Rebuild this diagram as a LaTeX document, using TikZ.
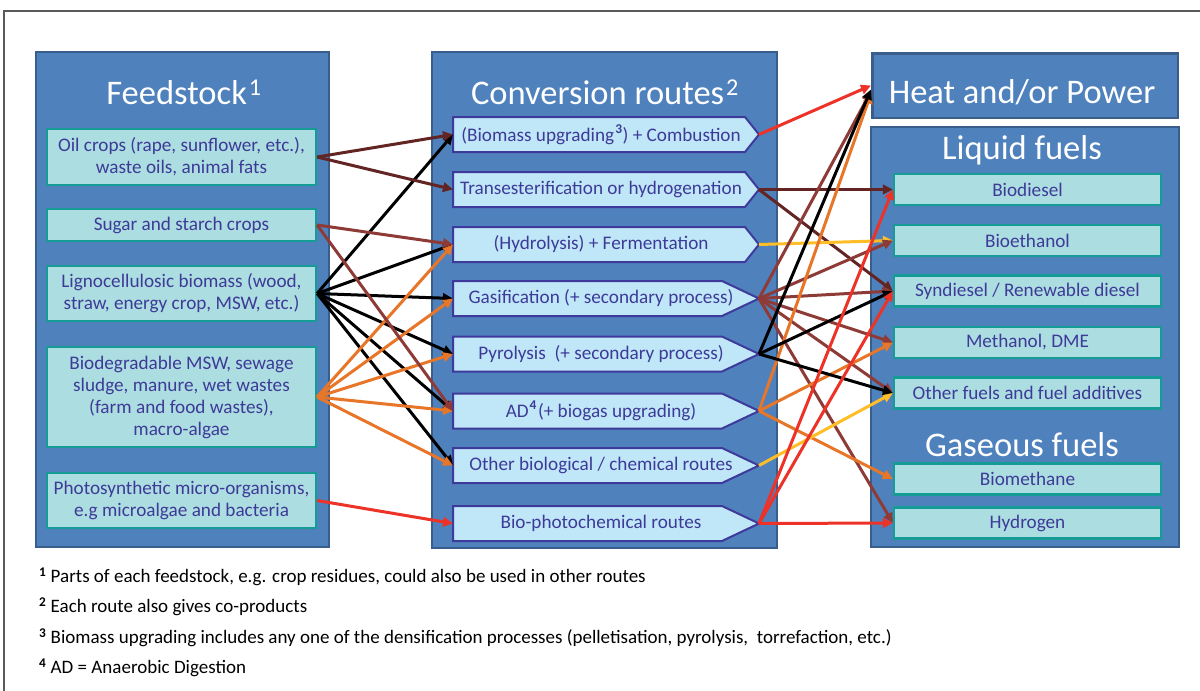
\documentclass[tikz,border=0pt]{standalone}
\usepackage{fontspec}
\setmainfont{Carlito}
\usetikzlibrary{arrows.meta}

\definecolor{panelfill}{RGB}{79,129,189}
\definecolor{paneledge}{RGB}{58,94,140}
\definecolor{feedfill}{RGB}{172,221,224}
\definecolor{feededge}{RGB}{22,156,150}
\definecolor{routefill}{RGB}{192,231,248}
\definecolor{routeedge}{RGB}{62,58,156}
\definecolor{boxtext}{RGB}{62,58,152}
\definecolor{framegrey}{RGB}{90,90,90}
\definecolor{cDarkBrown}{RGB}{99,37,35}
\definecolor{cBrown}{RGB}{142,59,56}
\definecolor{cOrange}{RGB}{232,118,40}
\definecolor{cRed}{RGB}{237,50,40}
\definecolor{cYellow}{RGB}{255,190,40}

\newcommand\titlefont{\fontsize{34.5}{38}\selectfont}
\newcommand\boxfont{\fontsize{19.2}{22}\selectfont}
\newcommand\notefont{\fontsize{19}{22}\selectfont}

% route box: name, centre y, shoulder x, label
\newcommand\RouteBox[4]{%
  \draw[routeshape] (453,#2-17.5) -- (#3,#2-17.5) -- (759,#2) -- (#3,#2+17.5) -- (453,#2+17.5) -- cycle;
  \node[routetext] (#1) at (601,#2) {#4};
  \coordinate (#1tip) at (759,#2);
  \coordinate (#1in) at (453,#2);
}

\tikzset{
  panel/.style={fill=panelfill, draw=paneledge, line width=2.5pt},
  paneltitle/.style={text=white, font=\titlefont, inner sep=0pt},
  feedbox/.style={fill=feedfill, draw=feededge, line width=2.2pt, text=boxtext,
    font=\boxfont, align=center, minimum width=269pt, inner sep=0pt},
  fuelbox/.style={fill=feedfill, draw=feededge, line width=2.2pt, text=boxtext,
    font=\boxfont, minimum width=267pt, minimum height=31pt, inner sep=0pt},
  routeshape/.style={fill=routefill, draw=routeedge, line width=2pt, line join=miter},
  routetext/.style={text=boxtext, font=\boxfont, inner sep=0pt},
  conn/.style={line width=3pt, -{Triangle[length=10pt,width=9.5pt]}},
  note/.style={anchor=west, font=\notefont, inner sep=0pt},
}

\begin{document}
\begin{tikzpicture}[x=1pt,y=-1pt]
\useasboundingbox (0,0) rectangle (1200,691);
\fill[white] (0,0) rectangle (1200,691);

% outer frame
\draw[framegrey, line width=1.2pt] (4,695) -- (4,11) -- (1205,11);

% panels
\path[panel] (36,52) rectangle (329,547);
\path[panel] (432,52) rectangle (777,548);
\path[panel] (871,127) rectangle (1179,547);
\node[panel, inner sep=0pt, minimum width=305.5pt, minimum height=64.5pt] (heat) at (1025,85.5) {};

\node[paneltitle] (tfeed) at (184,92) {Feedstock\kern2pt\textsuperscript{1}};
\node[paneltitle] (tconv) at (605,92) {Conversion routes\kern2pt\textsuperscript{2}};
\node[paneltitle] (theat) at (1022,92) {Heat and/or Power};
\node[paneltitle] (tliquid) at (1022,150) {Liquid fuels};
\node[paneltitle] (tgas) at (1022,445) {Gaseous fuels};

% feedstocks
\node[feedbox, minimum height=56pt] (oil) at (181.5,157) {Oil crops (rape, sunflower, etc.),\\waste oils, animal fats};
\node[feedbox, minimum height=32pt] (sugar) at (181.5,225) {Sugar and starch crops};
\node[feedbox, minimum height=55pt] (ligno) at (181.5,293.5) {Lignocellulosic biomass (wood,\\straw, energy crop, MSW, etc.)};
\node[feedbox, minimum height=100pt] (biodeg) at (181.5,397) {Biodegradable MSW, sewage\\sludge, manure, wet wastes\\(farm and food wastes),\\macro-algae};
\node[feedbox, minimum height=55pt] (photo) at (181.5,500.5) {Photosynthetic micro-organisms,\\e.g microalgae and bacteria};

% conversion routes
\RouteBox{comb}{134.5}{745}{(Biomass upgrading\kern1pt\textsuperscript{\textbf{3}}) + Combustion}
\RouteBox{trans}{189.5}{745}{Transesterification or hydrogenation}
\RouteBox{ferm}{244.5}{745}{(Hydrolysis) + Fermentation}
\RouteBox{gasif}{298.5}{722}{Gasification (+ secondary process)}
\RouteBox{pyro}{354}{722}{Pyrolysis\ \ (+ secondary process)}
\RouteBox{ad}{411}{722}{AD\kern1pt\textsuperscript{\textbf{4}}\kern1pt(+ biogas upgrading)}
\RouteBox{other}{465.5}{722}{Other biological / chemical routes}
\RouteBox{photochem}{523.5}{722}{Bio-photochemical routes}

% products
\node[fuelbox] (biodiesel) at (1027.5,189.5) {Biodiesel};
\node[fuelbox] (bioethanol) at (1027.5,240.5) {Bioethanol};
\node[fuelbox] (syndiesel) at (1027.5,291) {Syndiesel / Renewable diesel};
\node[fuelbox] (methanol) at (1027.5,342.5) {Methanol, DME};
\node[fuelbox] (otherfuel) at (1027.5,393) {Other fuels and fuel additives};
\node[fuelbox] (biomethane) at (1027.5,479) {Biomethane};
\node[fuelbox] (hydrogen) at (1027.5,523) {Hydrogen};

% feedstock -> route connectors
\foreach \t in {comb,ferm,gasif,pyro,ad,other}
  \draw[conn, black] (ligno.east) -- (\t in);
\foreach \t in {ferm,gasif,pyro,ad,other}
  \draw[conn, cOrange] (biodeg.east) -- (\t in);
\draw[conn, cDarkBrown] (oil.east) -- (combin);
\draw[conn, cDarkBrown] (oil.east) -- (transin);
\draw[conn, cBrown] (sugar.east) -- (fermin);
\draw[conn, cBrown] (sugar.east) -- (adin);
\draw[conn, cRed] (photo.east) -- (photochemin);

% route -> product connectors
\draw[conn, cRed] (combtip) -- (heat.west);
\draw[conn, cDarkBrown] (transtip) -- (biodiesel.west);
\draw[conn, cDarkBrown] (transtip) -- (syndiesel.west);
\draw[conn, cYellow] (fermtip) -- (bioethanol.west);
\foreach \p in {bioethanol,syndiesel,methanol,otherfuel,hydrogen}
  \draw[conn, cBrown] (gasiftip) -- (\p.west);
\draw[conn, cBrown] (gasiftip) -- ([yshift=-6pt]heat.west);
\draw[conn, cOrange] (adtip) -- ([yshift=-8pt]heat.west);
\draw[conn, cOrange] (adtip) -- (methanol.west);
\draw[conn, cOrange] (adtip) -- (biomethane.west);
\draw[conn, cYellow] (othertip) -- (otherfuel.west);
\draw[conn, black] (pyrotip) -- ([yshift=-4pt]heat.west);
\draw[conn, black] (pyrotip) -- (syndiesel.west);
\draw[conn, black] (pyrotip) -- (otherfuel.west);
\draw[conn, cRed] (photochemtip) -- (biodiesel.west);
\draw[conn, cRed] (photochemtip) -- (syndiesel.west);
\draw[conn, cRed] (photochemtip) -- (hydrogen.west);

% footnotes
\node[note] (fn1) at (39,577) {\textsuperscript{\textbf{1}} Parts of each feedstock, e.g. crop residues, could also be used in other routes};
\node[note] (fn2) at (39,607) {\textsuperscript{\textbf{2}} Each route also gives co-products};
\node[note] (fn3) at (39,638) {\textsuperscript{\textbf{3}} Biomass upgrading includes any one of the densification processes (pelletisation, pyrolysis,\ \ torrefaction, etc.)};
\node[note] (fn4) at (39,668) {\textsuperscript{\textbf{4}} AD = Anaerobic Digestion};
\end{tikzpicture}
\end{document}
